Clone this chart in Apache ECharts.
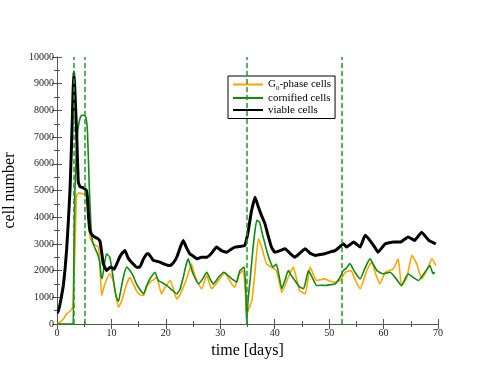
<!DOCTYPE html>
<html><head><meta charset="utf-8">
<script src="https://cdn.jsdelivr.net/npm/echarts/dist/echarts.min.js"></script>
<style>html,body{margin:0;padding:0;background:#fff}#c{width:493px;height:381px}</style>
</head><body><div id="c"></div>
<script>
// ---- data ----
const viableDays = [0,0.24,0.7,1.16,1.5,1.78,2.1,2.4,2.6,2.8,2.95,3.1,3.25,3.4,3.6,3.9,4.2,4.8,5.4,5.6,5.8,6.05,6.4,7.0,7.5,7.9,8.2,8.5,9.1,9.6,10.0,10.5,11.0,11.5,11.9,12.5,13.0,13.4,14.0,14.6,15.2,15.8,16.5,16.8,17.7,18.3,18.9,19.6,20.3,20.8,21.4,22.0,22.7,23.2,23.7,24.4,25.0,25.7,26.5,27.5,28.4,29.3,30.2,31.2,32.0,32.7,33.5,34.5,35.1,35.7,36.4,37.0,37.6,38.2,38.8,39.4,40.0,41.0,41.9,42.8,43.7,44.6,45.6,46.5,47.4,48.3,49.2,50.2,51.1,52.0,52.6,53.2,54.5,55.7,56.6,57.5,58.3,59.0,60.3,61.8,63.1,64.5,65.7,67.0,68.3,69.1,69.6];
const viableCells = [450,440,900,1440,2100,2820,3900,5070,6300,7570,8700,9440,8900,8200,7200,5320,5150,5100,5000,4700,4000,3500,3350,3250,3200,3100,2700,2260,2000,2100,2130,2050,2260,2500,2630,2750,2500,2380,2250,2130,2130,2400,2630,2630,2380,2350,2320,2250,2200,2190,2300,2500,2900,3130,2900,2630,2550,2440,2500,2500,2650,2880,2750,2690,2800,2880,2900,2940,3440,4200,4750,4380,4050,3760,3300,2880,2690,2750,2820,2650,2500,2650,2820,2650,2570,2600,2630,2700,2750,2900,3010,2880,3070,2880,3320,3130,2900,2690,3010,3070,3070,3260,3130,3440,3130,3050,3000];

const cornifiedDays = [0,2.95,3.05,3.15,3.3,3.55,3.8,4.1,4.5,4.9,5.3,5.6,5.9,6.2,6.5,7.0,7.5,7.9,8.1,8.3,8.6,9.1,9.7,10.3,10.7,11.0,11.3,11.6,12.2,12.8,13.4,14.0,14.6,15.2,15.9,16.5,17.1,18.0,18.6,19.3,20.2,21.0,22.0,22.6,23.2,23.7,24.1,24.5,25.0,26.0,26.8,27.5,28.1,28.7,29.7,30.6,31.2,31.8,32.4,33.0,33.6,34.4,34.7,34.85,35.1,35.5,35.8,36.2,36.7,37.2,37.7,38.2,38.6,39.1,39.7,40.3,40.8,41.3,41.9,42.5,43.1,43.7,44.5,45.3,46.2,47.0,47.7,48.5,49.2,50.2,51.1,52.0,52.6,53.2,53.8,54.7,55.7,56.6,57.5,58.2,58.8,59.9,61.2,62.3,63.3,64.5,65.4,66.4,67.6,68.5,69.1,69.4];
const cornifiedCells = [0,0,1500,3200,5070,6400,7200,7600,7820,7820,7750,7200,5320,3820,3100,2830,2600,2260,1800,1700,2100,2630,2500,1760,1200,950,850,1140,1760,2130,2000,1800,1500,1300,1130,1450,1700,1940,1630,1550,1440,1300,1130,1300,1750,2200,2440,2200,1880,1500,1700,1940,1700,1500,1750,1940,1850,1750,1650,1570,2000,2130,1200,0,880,1700,2380,3200,3880,3820,3400,3010,2700,2380,2130,2250,1800,1320,1650,2000,1800,1630,1400,1320,2000,1700,1440,1450,1440,1470,1500,1750,2000,2100,2260,1950,1690,2100,2440,2200,2000,1880,1940,1700,1440,1880,1750,1630,1940,2190,1880,1950];

const g0Days = [0,0.6,1.2,1.8,2.4,2.9,3.05,3.2,3.3,3.45,3.6,4.0,4.8,5.45,5.7,6.06,6.7,7.6,7.9,8.2,8.8,9.7,10.3,10.7,11.0,11.3,11.9,12.8,13.4,14.0,14.6,15.2,15.9,16.5,17.1,17.7,18.3,19.2,19.8,20.8,21.4,22.0,22.6,23.2,24.0,24.7,25.2,25.7,26.6,27.5,28.4,29.2,29.9,30.9,31.5,32.1,32.7,33.3,34.2,34.6,34.85,35.3,35.8,36.4,37.0,37.6,38.5,39.4,40.3,40.8,41.3,42.5,43.4,44.0,44.6,45.6,46.5,47.1,47.7,49.2,50.2,51.1,52.0,53.0,54.0,54.8,55.7,56.9,57.8,58.5,59.3,60.3,61.8,62.7,63.3,64.3,65.2,66.1,67.0,67.9,68.9,69.6];
const g0Cells = [0,80,200,380,480,630,1200,2200,2820,4000,4820,4900,4880,4750,4300,3250,3000,2880,2130,1070,1500,1880,1630,1200,880,630,880,1500,1750,1500,1250,1100,1070,1400,1570,1650,1750,1130,1350,1630,1300,940,1100,1380,1800,2250,1900,1630,1320,1820,1320,1500,1690,1940,1700,1500,1380,1820,2000,1200,400,600,880,2000,3190,2880,2250,2130,2000,1600,1190,1750,2130,1700,1250,1130,2130,1850,1630,1690,1600,1560,1630,1940,2000,1650,1320,2000,2320,1900,1500,1940,2070,2440,1440,1750,2570,2250,1690,2000,2440,2190];

const dashedDays = [3.0, 5.1, 34.85, 52.3];
const xTickValues = [0,10,20,30,40,50,60,70];
const yTickValues = [0,1000,2000,3000,4000,5000,6000,7000,8000,9000,10000];
const seriesNames = ['G0-phase cells','cornified cells','viable cells'];

// ---- chart ----
const zip = (xs, ys) => xs.map((x, i) => [x, ys[i]]);
const FONT = 'Liberation Serif';
const AX = '#555';
const chart = echarts.init(document.getElementById('c'), null, {renderer: 'canvas'});

const baseX = {
  type: 'value', min: xTickValues[0], max: xTickValues[xTickValues.length-1], interval: 10,
  axisLine: {show: true, lineStyle: {color: AX, width: 1}},
  axisTick: {show: true, inside: true, length: 5, lineStyle: {color: AX}},
  minorTick: {show: true, splitNumber: 2, length: 3, lineStyle: {color: AX}},
  splitLine: {show: false}
};
const baseY = {
  type: 'value', min: yTickValues[0], max: yTickValues[yTickValues.length-1], interval: 1000,
  axisLine: {show: true, lineStyle: {color: AX, width: 1}},
  axisTick: {show: true, inside: true, length: 5, lineStyle: {color: AX}},
  minorTick: {show: true, splitNumber: 2, length: 3, lineStyle: {color: AX}},
  splitLine: {show: false}
};

chart.setOption({
  animation: false,
  backgroundColor: '#fff',
  grid: {left: 57, right: 55, top: 57, bottom: 57, containLabel: false, outerBoundsMode: 'none'},
  xAxis: [
    Object.assign({}, baseX, {
      position: 'bottom',
      axisLabel: {show: true, color: '#222', fontFamily: FONT, fontSize: 10, margin: 4, formatter: v => String(v)},
      name: 'time [days]', nameLocation: 'middle', nameGap: 10,
      nameTextStyle: {fontFamily: FONT, fontSize: 16, color: '#000'}
    }),
    Object.assign({}, baseX, {position: 'top', axisLabel: {show: false}})
  ],
  yAxis: [
    Object.assign({}, baseY, {
      position: 'left',
      axisLabel: {show: true, color: '#222', fontFamily: FONT, fontSize: 10, margin: 3, formatter: v => String(v)},
      name: 'cell number', nameLocation: 'middle', nameGap: 29,
      nameTextStyle: {fontFamily: FONT, fontSize: 16, color: '#000'}
    }),
    Object.assign({}, baseY, {position: 'right', axisLabel: {show: false}})
  ],
  legend: {
    orient: 'vertical', left: 228, top: 76,
    backgroundColor: '#fff', borderColor: '#000', borderWidth: 1, borderRadius: 0,
    padding: [3, 4, 3, 5], itemGap: 1, itemWidth: 30, itemHeight: 2,
    icon: 'rect',
    data: seriesNames,
    formatter: function (n) {
      if (n === seriesNames[0]) return '{a|G}{s|0}{a|-phase cells}';
      return '{a|' + n + '}';
    },
    textStyle: {
      fontFamily: FONT, fontSize: 11, color: '#000', padding: [0,0,0,0],
      rich: {
        a: {fontFamily: FONT, fontSize: 11, color: '#000', lineHeight: 12},
        s: {fontFamily: FONT, fontSize: 7, color: '#000', verticalAlign: 'bottom', padding: [5,0,0,0], lineHeight: 14}
      }
    }
  },
  series: [
    {
      name: seriesNames[0], type: 'line', data: zip(g0Days, g0Cells),
      symbol: 'none', smooth: 0.15, lineStyle: {color: '#ffa500', width: 1.6}, itemStyle: {color: '#ffa500'},
      z: 2,
      markLine: {
        silent: true, symbol: 'none', label: {show: false},
        lineStyle: {color: '#1f9a1f', type: [5, 3], width: 1.5},
        data: dashedDays.map(d => ({xAxis: d}))
      }
    },
    {
      name: seriesNames[1], type: 'line', data: zip(cornifiedDays, cornifiedCells),
      symbol: 'none', smooth: 0.15, lineStyle: {color: '#108a10', width: 1.6}, itemStyle: {color: '#108a10'},
      z: 3
    },
    {
      name: seriesNames[2], type: 'line', data: zip(viableDays, viableCells),
      symbol: 'none', smooth: 0.1, lineStyle: {color: '#000', width: 3}, itemStyle: {color: '#000'},
      z: 4
    }
  ]
});
</script>
</body></html>
